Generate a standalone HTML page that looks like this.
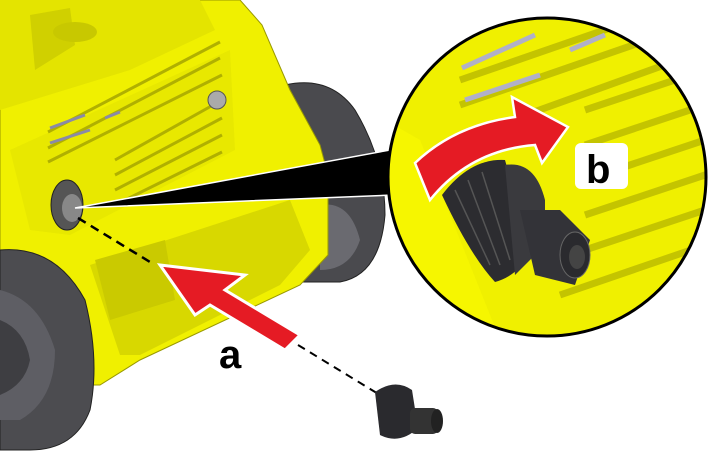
<!DOCTYPE html>
<html><head><meta charset="utf-8"><style>
html,body{margin:0;padding:0;background:#fff;}
svg{display:block;}
text{font-family:"Liberation Sans",Arial,sans-serif;font-weight:bold;}
</style></head><body>
<svg width="709" height="473" viewBox="0 0 709 473" xmlns="http://www.w3.org/2000/svg">
<rect width="709" height="473" fill="#fff"/>
<!-- back wheel -->
<path d="M285,85 Q330,75 355,110 Q385,160 385,215 Q380,275 340,282 L300,282 L290,150 Z" fill="#4a4a4e" stroke="#222" stroke-width="1"/>
<path d="M320,205 Q350,200 360,240 Q350,270 320,270 Z" fill="#6a6a70"/>
<!-- body -->
<path d="M0,0 L240,0 L262,25 L290,90 L320,145 L328,175 L328,255 L300,285 L140,360 L100,385 L70,385 L0,330 Z" fill="#f0f000" stroke="#999900" stroke-width="1"/>
<path d="M0,0 L200,0 L215,30 L130,70 L0,110 Z" fill="#e4e400"/>
<path d="M30,15 L70,8 L75,45 L35,70 Z" fill="#d0d000"/>
<ellipse cx="75" cy="32" rx="22" ry="10" fill="#c8c800"/>
<path d="M10,150 L230,50 L235,150 L70,235 L30,230 Z" fill="#e8e800"/>
<g stroke="#b0b000" stroke-width="3" fill="none">
<path d="M48,132 L220,42"/><path d="M48,148 L220,58"/><path d="M48,162 L222,75"/>
<path d="M115,160 L222,100"/><path d="M115,175 L222,118"/><path d="M115,190 L222,135"/><path d="M115,205 L222,152"/>
</g>
<g stroke="#8a8aa8" stroke-width="3"><path d="M50,128 L85,115"/><path d="M105,118 L120,112"/><path d="M50,143 L90,130"/></g>
<circle cx="217" cy="100" r="9" fill="#aaa" stroke="#555"/>
<path d="M90,265 L290,200 L310,250 L280,285 L140,355 L120,355 Z" fill="#d8d800"/>
<path d="M95,260 L165,240 L175,300 L110,320 Z" fill="#caca00"/>
<ellipse cx="67" cy="205" rx="16" ry="25" fill="#555" stroke="#222"/>
<ellipse cx="72" cy="208" rx="10" ry="14" fill="#888"/>
<!-- left wheel -->
<path d="M0,250 Q55,245 85,300 Q100,360 90,410 Q75,450 30,450 L0,450 Z" fill="#4c4c50" stroke="#222"/>
<path d="M0,290 Q40,300 55,350 Q55,400 20,420 L0,420 Z" fill="#5e5e64"/>
<path d="M0,320 Q25,330 30,360 Q25,385 0,395 Z" fill="#3e3e42"/>
<!-- callout cone -->
<polygon points="75,208 390,150 393,195" fill="#000" stroke="#fff" stroke-width="1.5"/>
<line x1="78" y1="218" x2="150" y2="262" stroke="#000" stroke-width="2.5" stroke-dasharray="9,6"/>
<line x1="298" y1="345" x2="380" y2="395" stroke="#000" stroke-width="2" stroke-dasharray="8,6"/>
<polygon points="160,265 245,275 225,290 300,335 285,350 210,305 195,315" fill="#e51b24" stroke="#fff" stroke-width="3"/>
<text x="219" y="368" font-size="40" fill="#000">a</text>
<path d="M375,392 Q395,378 412,390 L418,428 Q400,445 380,435 Z" fill="#2a2a2e"/>
<rect x="410" y="408" width="28" height="26" rx="5" fill="#333"/>
<ellipse cx="437" cy="421" rx="6" ry="12" fill="#222"/>
<!-- zoom circle -->
<defs><clipPath id="c"><circle cx="547" cy="177" r="158"/></clipPath></defs>
<circle cx="547" cy="177" r="160" fill="#f0f000"/>
<g clip-path="url(#c)">
<rect x="385" y="0" width="330" height="350" fill="#f0f000"/>
<path d="M385,120 L420,140 L500,340 L385,340 Z" fill="#f6f600"/>
<g stroke="#c4c400" stroke-width="7" fill="none">
<path d="M460,80 L720,-10"/><path d="M460,105 L720,15"/><path d="M470,135 L720,45"/>
<path d="M585,110 L720,65"/><path d="M585,145 L720,100"/><path d="M585,180 L720,135"/><path d="M585,215 L720,170"/><path d="M585,250 L720,205"/><path d="M560,295 L720,240"/>
</g>
<g stroke="#b0b0c8" stroke-width="5"><path d="M462,68 L535,35"/><path d="M570,50 L605,35"/><path d="M465,100 L540,75"/></g>
<!-- fitting nut -->
<path d="M442,195 Q470,158 505,160 L530,250 Q520,275 495,282 Q470,255 442,195 Z" fill="#2c2c30"/>
<g stroke="#555" stroke-width="1.5"><path d="M455,190 L490,265"/><path d="M468,180 L500,265"/><path d="M482,172 L510,260"/></g>
<path d="M505,165 Q535,160 545,200 L545,245 L515,275 Z" fill="#3a3a3e"/>
<path d="M520,210 L560,210 L590,240 L575,285 L535,275 Z" fill="#333338"/>
<ellipse cx="575" cy="255" rx="15" ry="23" fill="#2a2a2e" stroke="#666"/>
<ellipse cx="577" cy="257" rx="8" ry="12" fill="#444"/>
<!-- red curved arrow -->
<path d="M415,163 Q455,125 515,117 L512,97 L568,127 L542,163 L535,145 Q470,150 430,200 Z" fill="#e51b24" stroke="#fff" stroke-width="2.5" stroke-linejoin="miter"/>
</g>
<circle cx="547" cy="177" r="159" fill="none" stroke="#000" stroke-width="3"/>
<rect x="575" y="143" width="53" height="46" rx="6" fill="#fff"/>
<text x="586" y="183" font-size="40" fill="#000">b</text>
</svg>
</body></html>
